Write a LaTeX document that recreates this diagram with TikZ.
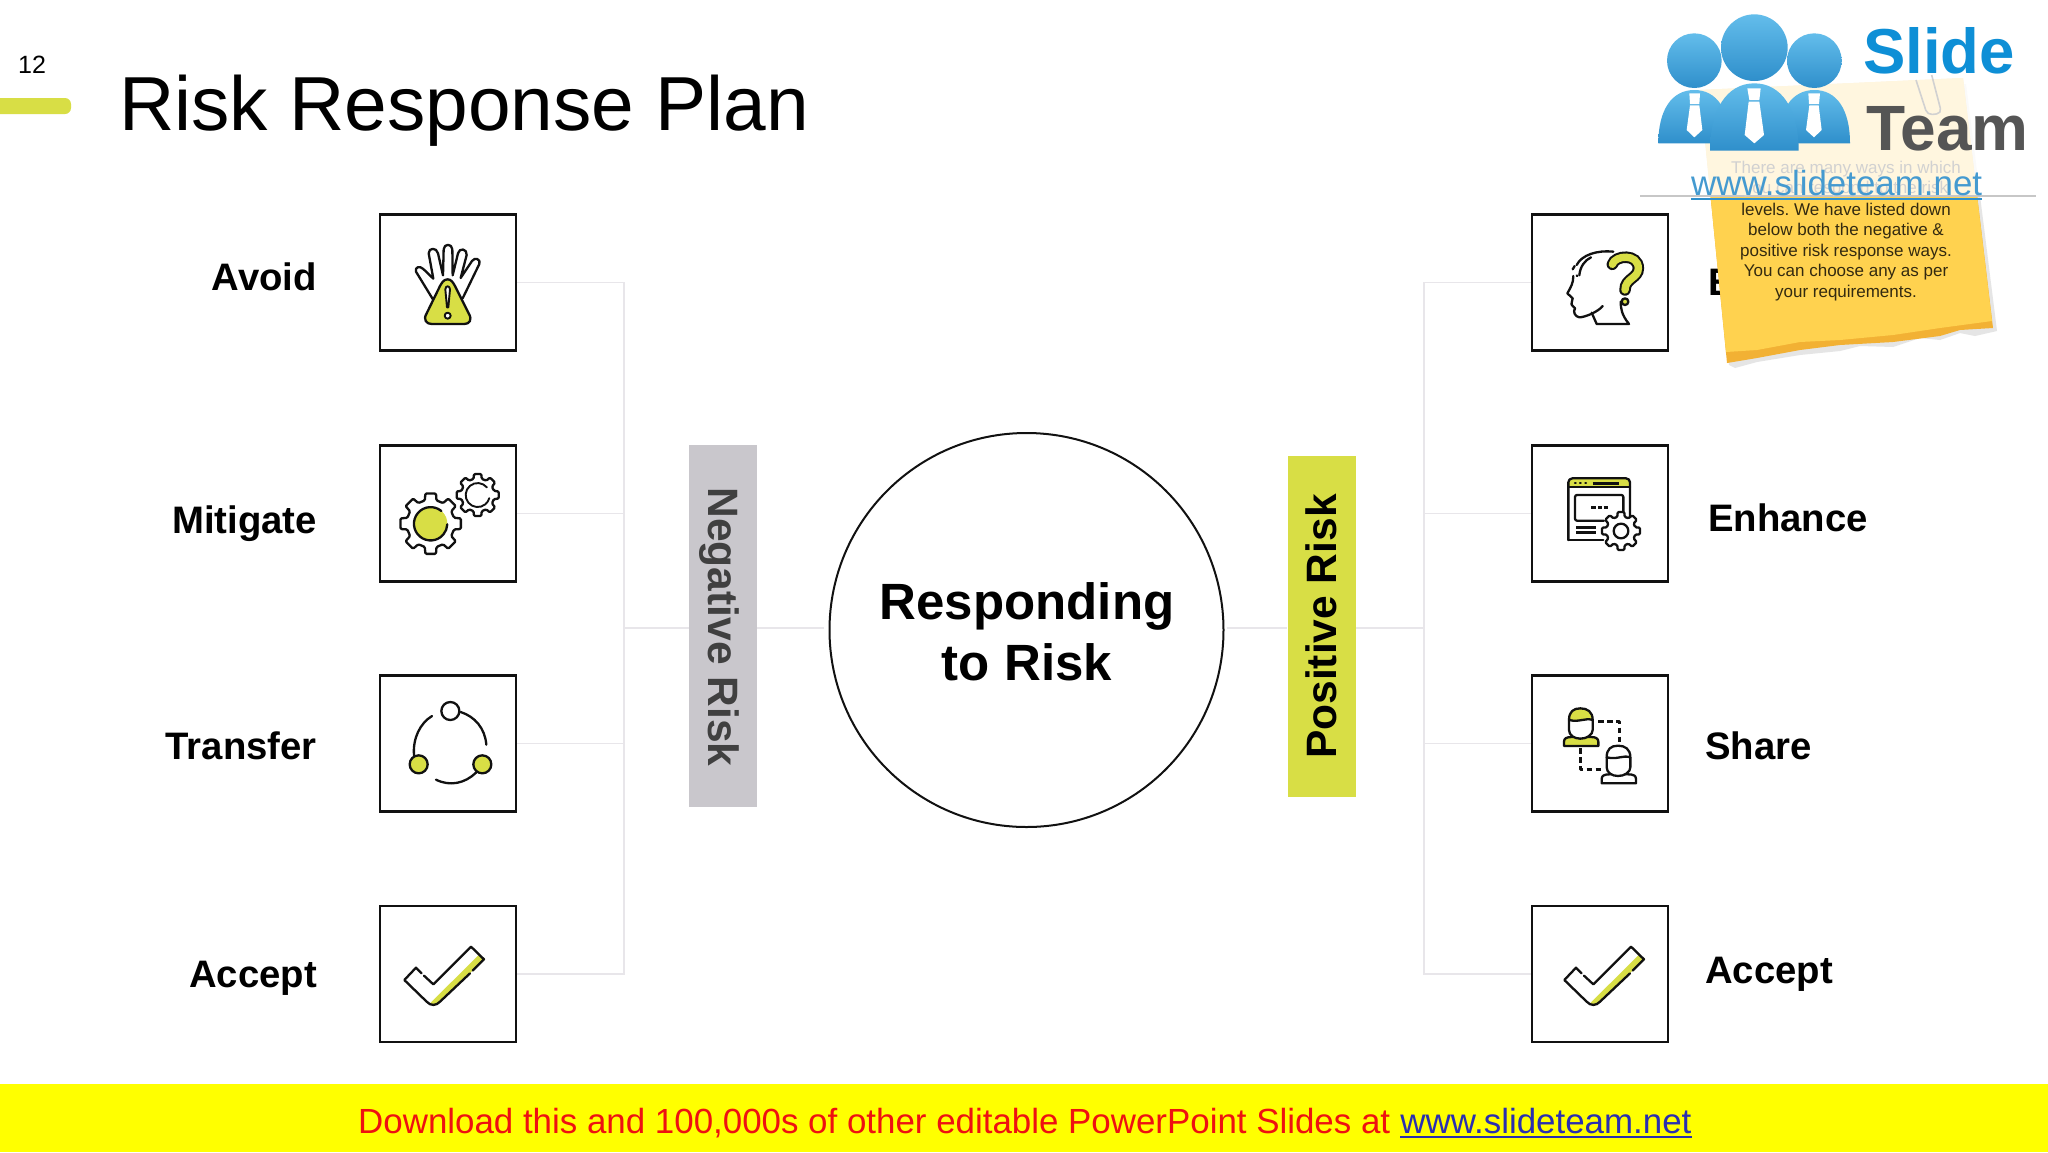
\documentclass[tikz,border=0pt]{standalone}
\usepackage{fontspec}
\setmainfont{Liberation Sans}
\AtBeginDocument{\frenchspacing}
\definecolor{lime}{HTML}{D8DE45}
\definecolor{barg}{HTML}{C9C7CC}
\definecolor{conng}{HTML}{E8E6EA}
\definecolor{note}{HTML}{FFD24F}
\definecolor{noteb}{HTML}{F2B134}
\definecolor{inkk}{HTML}{111111}
\definecolor{logoa}{HTML}{63BDEB}
\definecolor{logob}{HTML}{2F8FCB}
\definecolor{slideblue}{HTML}{0E8FD6}
\definecolor{teamgrey}{HTML}{555555}
\definecolor{footyellow}{HTML}{FFFF00}
\definecolor{footred}{HTML}{EE1111}
\definecolor{footblue}{HTML}{2A2FB0}
\newcommand{\fsz}[1]{\fontsize{#1}{#1}\selectfont}
\newcommand{\geartrack}[4]{% cx cy Ro Ri
  \begin{scope}[shift={(#1,#2)}]
  \draw[ico,fill=white,rounded corners=1.2pt] (-14:#4) \foreach \a in {0,45,...,315} { -- (\a-14:#4) -- (\a-10:#3) -- (\a+10:#3) -- (\a+14:#4) } -- cycle;
  \end{scope}}
\newcommand{\tick}[2]{% origin
  \begin{scope}[zview={#1}{#2}]
  \fill[lime] (180,1000) -- (325,856) -- (342,868) -- (212,996) -- (190,1008) -- cycle;
  \draw[ico,line join=round] (155,910) -- (138,893) -- (103,930) -- (170,995) .. controls (182,1008) and (198,1008) .. (210,995) -- (300,910);
  \draw[ico,line join=round] (162,917) -- (190,943) -- (303,830) -- (342,868) -- (308,902);
  \end{scope}}
\newcommand{\sharer}[3]{% offset x y, hair colour
  \begin{scope}[shift={(#1,#2)}]
  \draw[ico,fill=#3] (102,228) -- (102,215) .. controls (102,205) and (110,201) .. (125,201) -- (182,201) .. controls (197,201) and (205,205) .. (205,215) -- (205,228) -- cycle;
  \fill[white] (117,150) -- (186,145) -- (186,180) .. controls (186,195) and (170,206) .. (151,206) .. controls (132,206) and (117,195) .. (117,180) -- cycle;
  \draw[ico,fill=#3] (117,150) .. controls (117,125) and (130,115) .. (151,115) .. controls (172,115) and (188,125) .. (188,150) .. controls (165,142) and (150,158) .. (117,150) -- cycle;
  \draw[ico] (117,150) -- (117,180) .. controls (117,195) and (132,206) .. (151,206) .. controls (170,206) and (188,195) .. (188,180) -- (188,150);
  \end{scope}}
\tikzset{
  zview/.style 2 args={shift={(#1,#2)},x=0.33333pt,y=-0.33333pt},
  iconbox/.style={draw=inkk,line width=2.6pt,fill=white,minimum size=136pt,inner sep=0pt},
  conn/.style={draw=conng,line width=1.6pt},
  ico/.style={draw=inkk,line width=2.3pt,line cap=round,line join=round},
  lab/.style={font=\fsz{38.3}\bfseries,text=black,inner sep=0pt},
  barlab/.style={font=\fsz{42.5}\bfseries,inner sep=0pt,anchor=base},
  bar/.style={minimum width=68pt,inner sep=0pt,draw=none},
  notetxt/.style={font=\fsz{17},text=black!80!note,inner sep=0pt,anchor=base},
  fadetxt/.style={font=\fsz{17},text=black!18,inner sep=0pt,anchor=base},
}
\begin{document}
\begin{tikzpicture}[x=1pt,y=-1pt]
\useasboundingbox (0,0) rectangle (2048,1152);
\fill[white] (0,0) rectangle (2048,1152);
% header
\node[font=\fsz{25},anchor=base west,inner sep=0pt] (num) at (18,73) {12};
\fill[lime,rounded corners=6pt] (-12,98) rectangle (71,114);
\node[font=\fsz{76.6},anchor=base west,inner sep=0pt] (title) at (119,130) {Risk Response Plan};
% coordinates
\coordinate (busL) at (624,628);
\coordinate (busR) at (1424,628);
% boxes
\node[iconbox] (l1) at (448,282.5) {};
\node[iconbox] (l2) at (448,513.5) {};
\node[iconbox] (l3) at (448,743.5) {};
\node[iconbox] (l4) at (448,974) {};
\node[iconbox] (r1) at (1600,282.5) {};
\node[iconbox] (r2) at (1600,513.5) {};
\node[iconbox] (r3) at (1600,743.5) {};
\node[iconbox] (r4) at (1600,974) {};
% centre
\node[circle,draw=inkk,line width=2pt,fill=white,minimum size=394pt,inner sep=0pt] (hub) at (1026.5,630) {};
\node[bar,fill=barg,minimum height=362pt] (neg) at (723,626) {};
\node[bar,fill=lime,minimum height=341pt] (pos) at (1321.5,626.5) {};
% connectors
\draw[conn] (l1.east) -| (busL);
\draw[conn] (l4.east) -| (busL);
\draw[conn] (l2.east) -- (l2.east -| busL);
\draw[conn] (l3.east) -- (l3.east -| busL);
\draw[conn] (busL) -- (busL -| neg.west);
\draw[conn,shorten >=5pt] (busL -| neg.east) -- (busL -| hub.west);
\draw[conn] (r1.west) -| (busR);
\draw[conn] (r4.west) -| (busR);
\draw[conn] (r2.west) -- (r2.west -| busR);
\draw[conn] (r3.west) -- (r3.west -| busR);
\draw[conn] (busR) -- (busR -| pos.east);
\draw[conn,shorten <=2pt] (busL -| hub.east) -- (busL -| pos.west);
% centre text
\node[font=\fsz{51}\bfseries,anchor=base,inner sep=0pt] (t1) at (1027,619) {Responding};
\node[font=\fsz{51}\bfseries,anchor=base,inner sep=0pt] (t2) at (1027,680) {to Risk};
\node[barlab,rotate=-90,text=black!75] (negt) at (708.5,627) {Negative Risk};
\node[barlab,rotate=90,text=black] (post) at (1336,626.5) {Positive Risk};
% labels left
\node[lab,anchor=base east] (a1) at (317,290) {Avoid};
\node[lab,anchor=base east] (a2) at (317,533) {Mitigate};
\node[lab,anchor=base east] (a3) at (317,759) {Transfer};
\node[lab,anchor=base east] (a4) at (317,987) {Accept};
\node[lab,anchor=base west] (b1) at (1708,295) {E};
\node[lab,anchor=base west] (b2) at (1708,531.5) {Enhance};
\node[lab,anchor=base west] (b3) at (1705,759) {Share};
\node[lab,anchor=base west] (b4) at (1705,983) {Accept};
% hand icon
\begin{scope}[zview={370}{200}]
\draw[ico,fill=white] (190,300) -- (138,215) .. controls (134,200) and (150,197) .. (160,207) -- (190,236) -- (176,160) .. controls (176,142) and (200,142) .. (204,160) -- (219,226) -- (221,148) .. controls (222,130) and (246,130) .. (247,148) -- (248,226) -- (264,160) .. controls (268,142) and (292,146) .. (290,165) -- (272,234) -- (306,183) .. controls (314,170) and (334,178) .. (328,192) -- (278,295);
\draw[ico,fill=lime] (233,238) .. controls (220,238) and (215,250) .. (210,258) -- (170,340) .. controls (158,360) and (170,372) .. (185,372) -- (283,372) .. controls (298,372) and (308,360) .. (296,340) -- (255,258) .. controls (250,250) and (245,238) .. (233,238) -- cycle;
\draw[ico,fill=white,line width=1.9pt] (226,268) .. controls (226,256) and (240,256) .. (240,268) -- (235,322) -- (231,322) -- cycle;
\draw[ico,fill=white,line width=1.9pt] (233,347) circle (9);
\end{scope}
% gears icon
\begin{scope}[zview={370}{200}]
\geartrack{182}{971}{92}{72}
\fill[lime] (182,971) circle (50);
\draw[ico] (214,933) arc (-50:-358:50);
\geartrack{323}{885}{64}{50}
\draw[ico,line width=1.9pt] (350.6,862) arc (-40:-345:36);
\end{scope}
% transfer icon
\begin{scope}[zview={370}{670}]
\draw[ico,fill=white] (241,123) circle (27);
\draw[ico,fill=lime] (146,283) circle (27);
\draw[ico,fill=lime] (337,283) circle (27);
\draw[ico] (186,138) .. controls (150,160) and (128,205) .. (132,256);
\draw[ico] (272,126) .. controls (315,140) and (345,175) .. (349,224);
\draw[ico] (198,329) .. controls (240,350) and (285,340) .. (318,308);
\end{scope}
\tick{370}{670}
% head icon
\begin{scope}[zview={1530}{200}]
\draw[ico] (140,195) .. controls (155,165) and (200,150) .. (250,155);
\draw[ico] (128,208) -- (134,198);
\draw[ico] (148,226) .. controls (150,200) and (165,180) .. (183,172);
\draw[ico] (140,226) -- (142,228);
\draw[ico] (130,228) .. controls (130,250) and (122,262) .. (112,280) -- (128,295) .. controls (128,305) and (120,312) .. (128,318) -- (135,325) .. controls (128,335) and (135,350) .. (148,352) .. controls (165,352) and (205,335) .. (218,318);
\draw[ico] (185,338) -- (200,372) -- (297,372) .. controls (275,345) and (272,325) .. (272,305);
\draw[line width=11.5pt,draw=inkk,line cap=round] (247,193) .. controls (255,165) and (325,160) .. (325,205) .. controls (325,235) and (285,235) .. (285,270);
\draw[line width=7.4pt,draw=lime,line cap=round] (247,193) .. controls (255,165) and (325,160) .. (325,205) .. controls (325,235) and (285,235) .. (285,270);
\draw[ico,fill=lime] (285,305) circle (10);
\end{scope}
% window gear icon
\begin{scope}[zview={1530}{200}]
\fill[lime,rounded corners=4pt] (115,835) rectangle (300,866);
\fill[white] (115,860) rectangle (300,866);
\draw[ico,rounded corners=4pt] (115,1020) -- (115,835) -- (300,835) -- (300,960);
\draw[ico] (115,1020) -- (220,1020);
\draw[ico] (115,862) -- (300,862);
\draw[ico] (135,850) -- (137,850) (150,850) -- (152,850) (166,850) -- (168,850);
\draw[ico,line width=3pt,line cap=butt] (188,850) -- (268,850);
\draw[ico,rounded corners=2pt] (222,962) -- (135,962) -- (135,885) -- (280,885) -- (280,945);
\draw[ico,line width=2.5pt,line cap=butt] (183,923) -- (198,923) (204,923) -- (215,923) (221,923) -- (235,923);
\draw[ico,line width=2.7pt,line cap=butt] (138,983) -- (197,983) (138,998) -- (197,998);
\geartrack{273}{993}{58}{44}
\draw[ico] (273,993) circle (22);
\end{scope}
% share icon
\begin{scope}[zview={1530}{670}]
\sharer{0}{0}{lime}
\sharer{113}{112}{white}
\draw[ico,line cap=butt,line width=2.6pt,dash pattern=on 5.5pt off 3.5pt] (205,155) -- (268,155) -- (268,215);
\draw[ico,line cap=butt,line width=2.6pt,dash pattern=on 5.5pt off 3.5pt] (152,235) -- (152,298) -- (215,298);
\end{scope}
\tick{1530}{670}
% sticky note
\fill[black!10] (1703,95) -- (1966,84) -- (1997,331) -- (1975,336) -- (1960,333) -- (1940,340) -- (1920,338) -- (1893,347) -- (1860,346) -- (1840,351) -- (1800,355) -- (1757,362) -- (1735,368) -- (1729,365) -- cycle;
\fill[noteb] (1700,90) -- (1963,78) -- (1993,328) -- (1960,330) -- (1940,336) -- (1893,342) -- (1840,345) -- (1800,350) -- (1757,358) -- (1727,363) -- cycle;
\fill[note] (1700,90) -- (1963,78) -- (1992,321) -- (1940,328) -- (1893,335) -- (1840,340) -- (1800,342) -- (1757,350) -- (1726,352) -- cycle;
\node[notetxt] (n3) at (1846,215) {levels. We have listed down};
\node[notetxt] (n4) at (1846,235.5) {below both the negative \&};
\node[notetxt] (n5) at (1846,256) {positive risk response ways.};
\node[notetxt] (n6) at (1846,276.5) {You can choose any as per};
\node[notetxt] (n7) at (1846,297) {your requirements.};
% logo panel
\fill[white,opacity=.82] (1648,0) rectangle (2048,196);
\draw[black!22,line width=1.2pt] (1640,196) -- (2036,196);
\begin{scope}[zview={1640}{0}]
\draw[black!18,line width=1.6pt,rounded corners=5pt] (828,240) -- (862,345) -- (905,340) -- (875,225);
\end{scope}
\node[fadetxt] (n1) at (1846,173) {There are many ways in which};
\node[fadetxt] (n2) at (1846,193) {you can respond to the risk};
% logo
\begin{scope}[zview={1640}{0}]
\shade[top color=logoa,bottom color=logob] (55,430) .. controls (55,330) and (95,270) .. (163,270) .. controls (231,270) and (270,330) .. (270,430) -- cycle;
\shade[top color=logoa,bottom color=logob] (415,430) .. controls (415,330) and (455,270) .. (523,270) .. controls (591,270) and (630,330) .. (630,430) -- cycle;
\shade[top color=logoa,bottom color=logob] (210,452) .. controls (210,330) and (260,250) .. (343,250) .. controls (426,250) and (476,330) .. (476,452) -- cycle;
\shade[top color=logoa,bottom color=logob] (163,182) circle (82);
\shade[top color=logoa,bottom color=logob] (523,182) circle (82);
\shade[top color=logoa,bottom color=logob] (343,143) circle (100);
\fill[white] (148,280) -- (180,280) -- (178,312) -- (150,312) -- cycle (150,316) -- (178,316) -- (187,390) -- (163,412) -- (140,390) -- cycle;
\fill[white] (505,280) -- (540,280) -- (537,312) -- (507,312) -- cycle (508,316) -- (536,316) -- (545,390) -- (522,412) -- (498,390) -- cycle;
\fill[white] (322,265) -- (362,265) -- (358,300) -- (328,300) -- cycle (326,305) -- (358,305) -- (372,405) -- (343,430) -- (314,405) -- cycle;
\end{scope}
\node[font=\fsz{63.5}\bfseries,text=slideblue,anchor=base west,inner sep=0pt] (slide) at (1863,73) {Slide};
\node[font=\fsz{64}\bfseries,text=teamgrey,anchor=base west,inner sep=0pt] (team) at (1866,150) {Team};
\node[font=\fsz{34.9},text=logob!90!white,anchor=base west,inner sep=0pt] (url) at (1691,195) {www.slideteam.net};
\draw[logob,line width=2.2pt] (url.base west |- 0,199) -- (url.base east |- 0,199);
% footer
\fill[footyellow] (0,1084) rectangle (2048,1152);
\node[font=\fsz{34.9},text=footred,anchor=base west,inner sep=0pt] (foot) at (358,1133) {Download this and 100,000s of other editable PowerPoint Slides at};
\node[font=\fsz{34.9},text=footblue,anchor=base west,inner sep=0pt,xshift=9.7pt] (link) at (foot.base east) {www.slideteam.net};
\draw[footblue,line width=2.4pt] ([yshift=-4pt]link.base west) -- ([yshift=-4pt]link.base east);
\end{tikzpicture}
\end{document}
